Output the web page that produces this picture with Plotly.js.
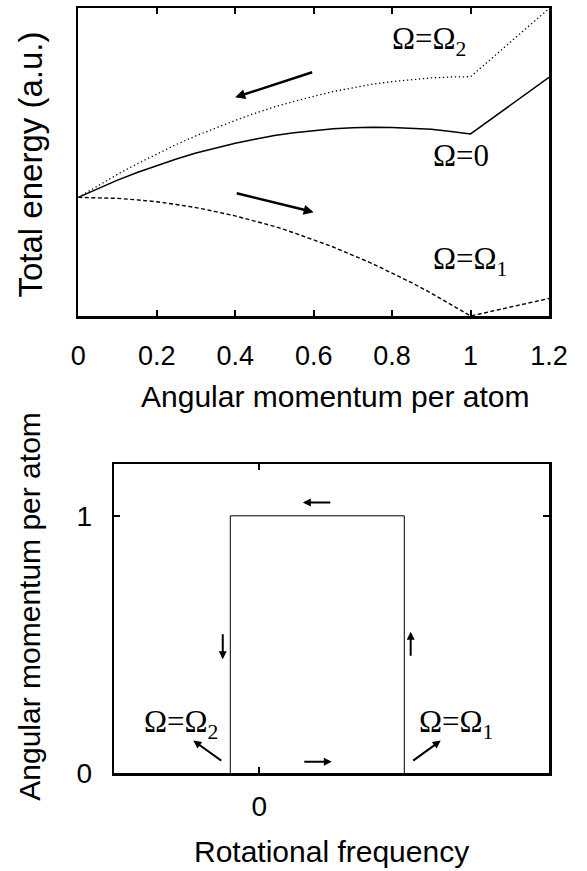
<!DOCTYPE html>
<html>
<head>
<meta charset="utf-8">
<script src="https://cdn.plot.ly/plotly-3.0.1.min.js"></script>
<style>html,body{margin:0;padding:0;background:#fff;}#chart{width:587px;height:871px;}</style>
</head>
<body>
<div id="chart"></div>
<script>
// ---- Top panel data: total energy vs angular momentum per atom ----
const L = [0,0.05,0.1,0.15,0.2,0.25,0.3,0.35,0.4,0.45,0.5,0.55,0.6,0.65,0.7,0.75,0.8,0.85,0.9,0.95,1.0,1.2];
const E_omega0 = [0.385,0.414,0.441,0.466,0.489,0.510,0.529,0.546,0.561,0.574,0.586,0.595,0.602,0.608,0.611,0.613,0.612,0.610,0.606,0.599,0.591,0.775];
const E_omega2 = [0.385,0.423,0.460,0.494,0.526,0.557,0.585,0.611,0.635,0.658,0.679,0.697,0.714,0.729,0.741,0.753,0.761,0.768,0.773,0.776,0.777,0.998];
const E_omega1 = [0.385,0.384,0.382,0.377,0.371,0.362,0.352,0.339,0.325,0.308,0.291,0.270,0.247,0.224,0.197,0.170,0.139,0.108,0.074,0.038,0.000,0.057];
const topTickVals = [0,0.2,0.4,0.6,0.8,1.0,1.2];
const topTickText = ['0','0.2','0.4','0.6','0.8','1','1.2'];

// ---- Bottom panel data: angular momentum vs rotational frequency (hysteresis loop) ----
const omegaLoop = [-0.2,-0.2,1,1];
const Lloop = [0,1,1,0];
const botXTickVals = [0];
const botXTickText = ['0'];
const botYTickVals = [0,1];
const botYTickText = ['0','1'];

// ---- Labels ----
const labelOmega2 = 'Ω=Ω<sub>2</sub>';
const labelOmega0 = 'Ω=0';
const labelOmega1 = 'Ω=Ω<sub>1</sub>';

const serif = 'Liberation Serif, Times New Roman, serif';
const sans = 'Liberation Sans, Arial, sans-serif';

const traces = [
  {x: L, y: E_omega0, xaxis: 'x', yaxis: 'y', mode: 'lines', line: {color: '#000', width: 1.5}, hoverinfo: 'skip'},
  {x: L, y: E_omega2, xaxis: 'x', yaxis: 'y', mode: 'lines', line: {color: '#000', width: 1.3, dash: '1.3px,2.7px'}, hoverinfo: 'skip'},
  {x: L, y: E_omega1, xaxis: 'x', yaxis: 'y', mode: 'lines', line: {color: '#000', width: 1.4, dash: '4px,2.5px'}, hoverinfo: 'skip'},
  {x: omegaLoop, y: Lloop, xaxis: 'x2', yaxis: 'y2', mode: 'lines', line: {color: '#000', width: 1}, hoverinfo: 'skip'}
];

function arrow(xref, yref, x0, y0, x1, y1, w) {
  return {xref: xref, yref: yref, axref: xref, ayref: yref, x: x1, y: y1, ax: x0, ay: y0,
    text: '', showarrow: true, arrowhead: 2, arrowsize: 0.8, arrowwidth: w, arrowcolor: '#000', standoff: 0, startstandoff: 0};
}
function label(xref, yref, x, y, text) {
  return {xref: xref, yref: yref, x: x, y: y, text: text, showarrow: false, xanchor: 'left', yanchor: 'middle',
    font: {family: serif, size: 31, color: '#000'}};
}
function title(x, y, text, angle, size) {
  return {xref: 'paper', yref: 'paper', x: x, y: y, text: text, showarrow: false, xanchor: 'center', yanchor: 'middle',
    textangle: angle, font: {family: sans, size: size, color: '#000'}};
}

const annotations = [
  arrow('x', 'y', 0.6, 0.793, 0.4, 0.710, 2.5),
  arrow('x', 'y', 0.4, 0.400, 0.6, 0.337, 2.5),
  label('x', 'y', 0.795, 0.893, labelOmega2),
  label('x', 'y', 0.900, 0.522, labelOmega0),
  label('x', 'y', 0.900, 0.178, labelOmega1),
  arrow('x2', 'y2', 0.5, 1.052, 0.3, 1.052, 2),
  arrow('x2', 'y2', 0.3, 0.045, 0.5, 0.045, 2),
  arrow('x2', 'y2', -0.252, 0.546, -0.252, 0.443, 2),
  arrow('x2', 'y2', 1.044, 0.451, 1.044, 0.550, 2),
  arrow('x2', 'y2', -0.252, 0.045, -0.455, 0.127, 2),
  arrow('x2', 'y2', 1.051, 0.045, 1.251, 0.127, 2),
  label('x2', 'y2', -0.81, 0.190, labelOmega2),
  label('x2', 'y2', 1.087, 0.190, labelOmega1),
  title(335/587, 1 - 396/871, 'Angular momentum per atom', 0, 30),
  title(30/587, 1 - 164.5/871, 'Total energy (a.u.)', -90, 33),
  title(331/587, 1 - 851/871, 'Rotational frequency', 0, 30),
  title(30/587, 1 - 606.7/871, 'Angular momentum per atom', -90, 30)
];

const axisCommon = {showline: true, linecolor: '#000', linewidth: 2.5, showgrid: false, zeroline: false,
  ticks: 'inside', ticklen: 6, tickwidth: 2, tickcolor: '#000', fixedrange: true};

const layout = {
  width: 587, height: 871,
  margin: {l: 0, r: 0, t: 0, b: 0},
  paper_bgcolor: '#fff', plot_bgcolor: '#fff',
  showlegend: false,
  xaxis: Object.assign({}, axisCommon, {domain: [78.3/587, 549/587], range: [0, 1.2], anchor: 'y', mirror: 'ticks',
    tickmode: 'array', tickvals: topTickVals, ticktext: topTickText, ticklabelstandoff: 14,
    tickfont: {family: sans, size: 27, color: '#000'}}),
  yaxis: Object.assign({}, axisCommon, {domain: [1 - 316/871, 1 - 8/871], range: [0, 1], anchor: 'x', mirror: true,
    ticks: '', showticklabels: false}),
  xaxis2: Object.assign({}, axisCommon, {domain: [114.3/587, 549.3/587], range: [-1, 2], anchor: 'y2', mirror: 'ticks',
    tickmode: 'array', tickvals: botXTickVals, ticktext: botXTickText, ticklabelstandoff: 7,
    tickfont: {family: sans, size: 28, color: '#000'}}),
  yaxis2: Object.assign({}, axisCommon, {domain: [1 - 773.3/871, 1 - 464.3/871], range: [0, 1.2], anchor: 'x2', mirror: 'ticks',
    tickmode: 'array', tickvals: botYTickVals, ticktext: botYTickText, ticklabelstandoff: 14,
    tickfont: {family: sans, size: 28, color: '#000'}}),
  annotations: annotations
};

Plotly.newPlot('chart', traces, layout, {displayModeBar: false, staticPlot: true});
</script>
</body>
</html>
